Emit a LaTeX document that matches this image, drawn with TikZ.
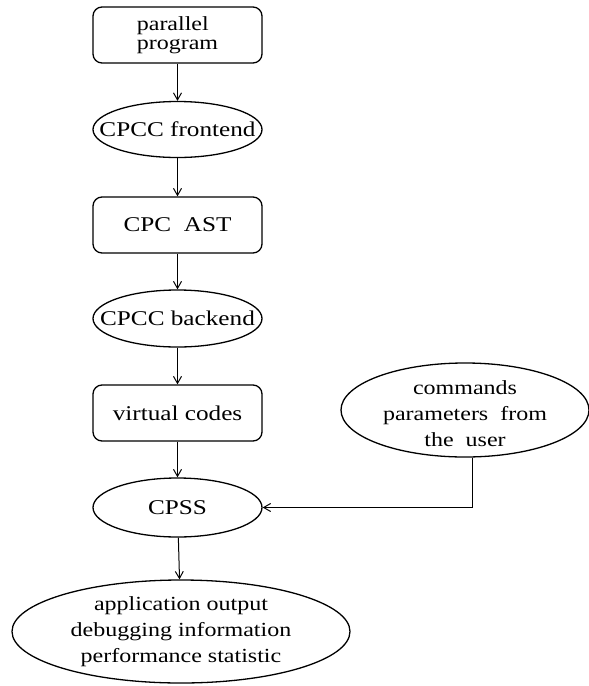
\documentclass[tikz,border=0pt]{standalone}
\usepackage{fontspec}
\setmainfont[FakeStretch=1.2]{Liberation Serif}
\usetikzlibrary{shapes.geometric,arrows.meta}
\begin{document}
\begin{tikzpicture}[x=1pt,y=-1pt,
  every node/.style={font=\fontsize{20}{26}\selectfont, line width=1.3pt, inner sep=0pt},
  big/.style={font=\fontsize{21}{26}\selectfont},
  box/.style={draw, rounded corners=9pt, minimum width=169pt, minimum height=56pt},
  ell/.style={draw, ellipse, minimum width=169pt, minimum height=56pt},
  lbl/.style={align=center},
  arr/.style={line width=1pt, -{Straight Barb[length=7pt,width=8pt]}}]
\useasboundingbox (0,0) rectangle (589,686);

\node[box, align=left, font=\fontsize{20}{19.5}\selectfont] (pp) at (177.5,35) {parallel\\program};

\node[ell] (fe) at (177.5,129.5) {};
\node[lbl, big] (fe-t) at (fe.center) {CPCC frontend};

\node[box, big] (ast) at (177.5,225) {CPC\ \ AST};

\node[ell, minimum height=57pt] (be) at (177.5,318.5) {};
\node[lbl, big] (be-t) at (be.center) {CPCC backend};

\node[box, big] (vc) at (177.5,413) {virtual codes};

\node[ell, minimum height=59pt] (cpss) at (177.5,507.5) {};
\node[lbl, big] (cpss-t) at (cpss.center) {CPSS};

\node[ell, minimum width=248pt, minimum height=94pt] (cmd) at (465,410) {};
\node[lbl] (cmd-t) at ([yshift=-4pt]cmd.center) {commands\\parameters\ \ from\\the\ \ user};

\node[ell, minimum width=338pt, minimum height=103pt] (out) at (181,631.5) {};
\node[lbl] (out-t) at (out.center) {application output\\debugging information\\performance statistic};

\draw[arr] (pp) -- (fe);
\draw[arr] (fe) -- (ast);
\draw[arr] (ast) -- (be);
\draw[arr] (be) -- (vc);
\draw[arr] (vc) -- (cpss);
\draw[arr] (cpss) -- (out);
\draw[arr] ([xshift=7pt]cmd.south) |- (cpss.east);
\end{tikzpicture}
\end{document}
